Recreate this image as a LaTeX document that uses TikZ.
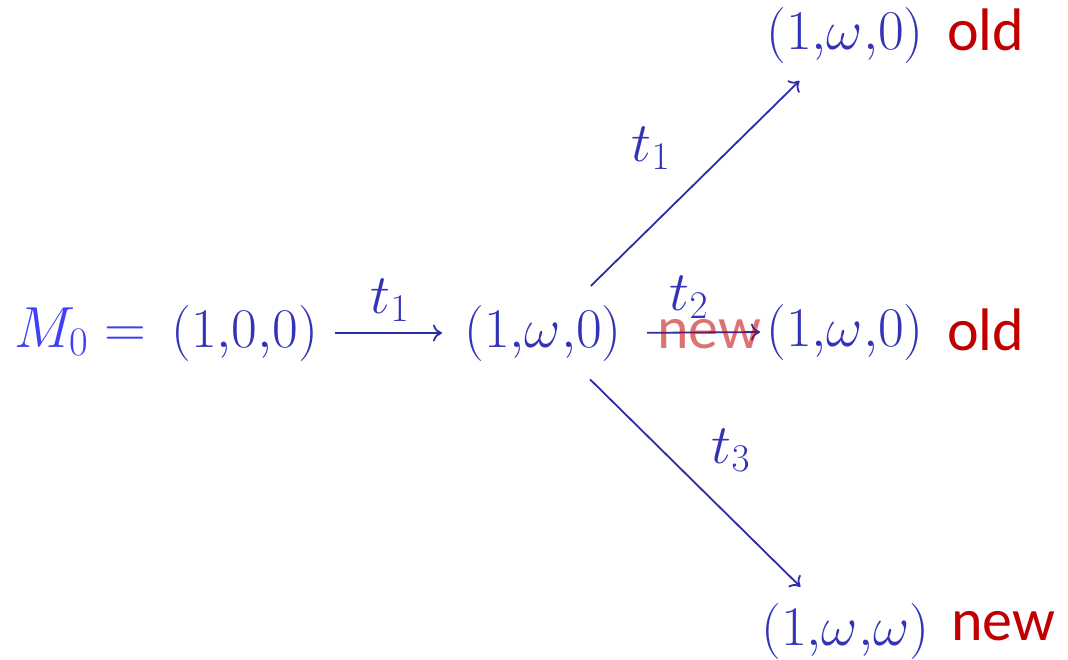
\RequirePackage{fix-cm}
\documentclass[tikz,border=0pt]{standalone}
\usepackage{fontspec}
\usetikzlibrary{arrows.meta}
\newfontfamily\redfont{Carlito}
\definecolor{mblue}{HTML}{3F3FF5}
\definecolor{tblue}{HTML}{3333B8}
\definecolor{ablue}{HTML}{2C2CA8}
\definecolor{oldred}{HTML}{C00000}
\begin{document}
\begin{tikzpicture}[x=1pt,y=-1pt,
  mt/.style={font=\fontsize{56}{62}\selectfont, text=tblue, inner sep=0pt},
  rt/.style={font=\redfont\fontsize{60}{68}\selectfont, text=oldred, inner sep=0pt},
  arr/.style={draw=ablue, line width=1.8pt, -{To[length=9pt,width=17pt]}}]
\useasboundingbox (0,0) rectangle (1068,660);
\node[mt, text=mblue, anchor=base west, font=\fontsize{58}{64}\selectfont] (m0) at (14,347) {$M_0 =$};
\node[mt, anchor=base west] (s0) at (171,347) {$(1{,}0{,}0)$};
\node[mt, anchor=base west] (s1) at (464,347) {$(1{,}\omega{,}0)$};
\node[mt, anchor=base west] (top) at (766,50) {$(1{,}\omega{,}0)$};
\node[mt, anchor=base west] (mid) at (766,346) {$(1{,}\omega{,}0)$};
\node[mt, anchor=base west] (bot) at (761,645) {$(1{,}\omega{,}\omega)$};
\node[rt, anchor=base west] (o1) at (947,51) {old};
\node[rt, anchor=base west] (o2) at (947,350) {old};
\node[rt, anchor=base west] (n3) at (951,640) {new};
\draw[arr, shorten <=16pt, shorten >=22pt] (s0.east) -- (s1.west);
\draw[arr, shorten <=25pt, shorten >=6pt] (s1.east) -- (mid.west);
\draw[arr, shorten <=67pt, shorten >=64pt] (s1.center) -- (top.center);
\draw[arr, shorten <=66pt, shorten >=63pt] (s1.center) -- (bot.center);
\node[mt] (l1) at (390,300) {$t_1$};
\node[mt] (l2) at (689,297) {$t_2$};
\node[mt] (l3) at (651,148) {$t_1$};
\node[mt] (l4) at (731,450) {$t_3$};
\node[rt, text=oldred, text opacity=0.55, anchor=base west] (nw) at (657,348) {new};
\end{tikzpicture}
\end{document}
